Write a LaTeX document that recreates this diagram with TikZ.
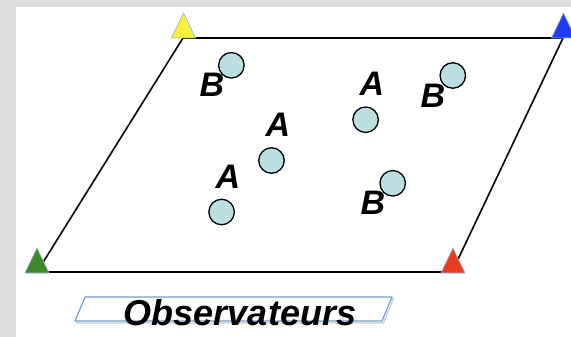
\documentclass[tikz,border=0pt]{standalone}
\usepackage{fontspec}
\setmainfont{Liberation Sans}
\definecolor{bggray}{HTML}{DCDCDC}
\definecolor{dotfill}{HTML}{BBDFE0}
\definecolor{tyellow}{HTML}{F8F236}
\definecolor{tblue}{HTML}{1E3CFA}
\definecolor{tgreen}{HTML}{3C8A28}
\definecolor{tred}{HTML}{E63E1E}
\definecolor{tedge}{HTML}{9AB0C8}
\definecolor{boxedge}{HTML}{6F9FD0}
\tikzset{
  lbl/.style={inner sep=0pt, font=\fontsize{34}{34}\selectfont\bfseries\itshape},
  dot/.style={circle, draw=black, line width=1.3pt, fill=dotfill, minimum size=25.5pt, inner sep=0pt},
  corner/.style={draw=tedge, line width=0.6pt, line join=round},
  frame/.style={draw=black, line width=1.6pt, line join=round}
}
\begin{document}
\begin{tikzpicture}[x=1pt,y=-1pt]
\useasboundingbox (0,0) rectangle (571,337);
\fill[bggray] (0,0) rectangle (571,337);
\fill[white] (16,7) rectangle (571,337);
% parallelogram
\coordinate (G) at (37,272);
\coordinate (Y) at (183,38);
\coordinate (Bl) at (563,38);
\coordinate (R) at (452,272);
\draw[frame] (G) -- (Y) -- (Bl) -- (R) -- cycle;
% labels
\node[lbl] (lb1) at (212,85) {B};
\node[lbl] (la1) at (372,84) {A};
\node[lbl] (lb2) at (433,96) {B};
\node[lbl] (la2) at (278,124.5) {A};
\node[lbl] (la3) at (228,177) {A};
\node[lbl] (lb3) at (373,202.5) {B};
% dots
\node[dot] (cb1) at (231.4,65.3) {};
\node[dot] (ca1) at (365.6,119.7) {};
\node[dot] (cb2) at (452.8,75.5) {};
\node[dot] (ca2) at (271.5,160.5) {};
\node[dot] (ca3) at (221.6,212) {};
\node[dot] (cb3) at (392.7,183.3) {};
% corner triangles
\fill[corner, fill=tyellow] (171.5,38) -- (183.5,13) -- (195.5,38) -- cycle;
\fill[corner, fill=tblue] (551.5,38) -- (563.5,13) -- (575.5,38) -- cycle;
\fill[corner, fill=tgreen] (25,273) -- (37,248) -- (49,273) -- cycle;
\fill[corner, fill=tred] (441,273) -- (453,248) -- (465,273) -- cycle;
% observers box
\draw[gray!40, line width=1.2pt, line join=round] (86,298.5) -- (393.5,298.5) -- (383.5,323) -- (76.5,323) -- cycle;
\draw[boxedge, fill=white, line width=1.2pt, line join=round] (85,297) -- (392,297) -- (382,321) -- (75,321) -- cycle;
\node[inner sep=0pt, font=\fontsize{36}{36}\selectfont\bfseries\itshape] (obs) at (240,312.5) {Observateurs};
\end{tikzpicture}
\end{document}
